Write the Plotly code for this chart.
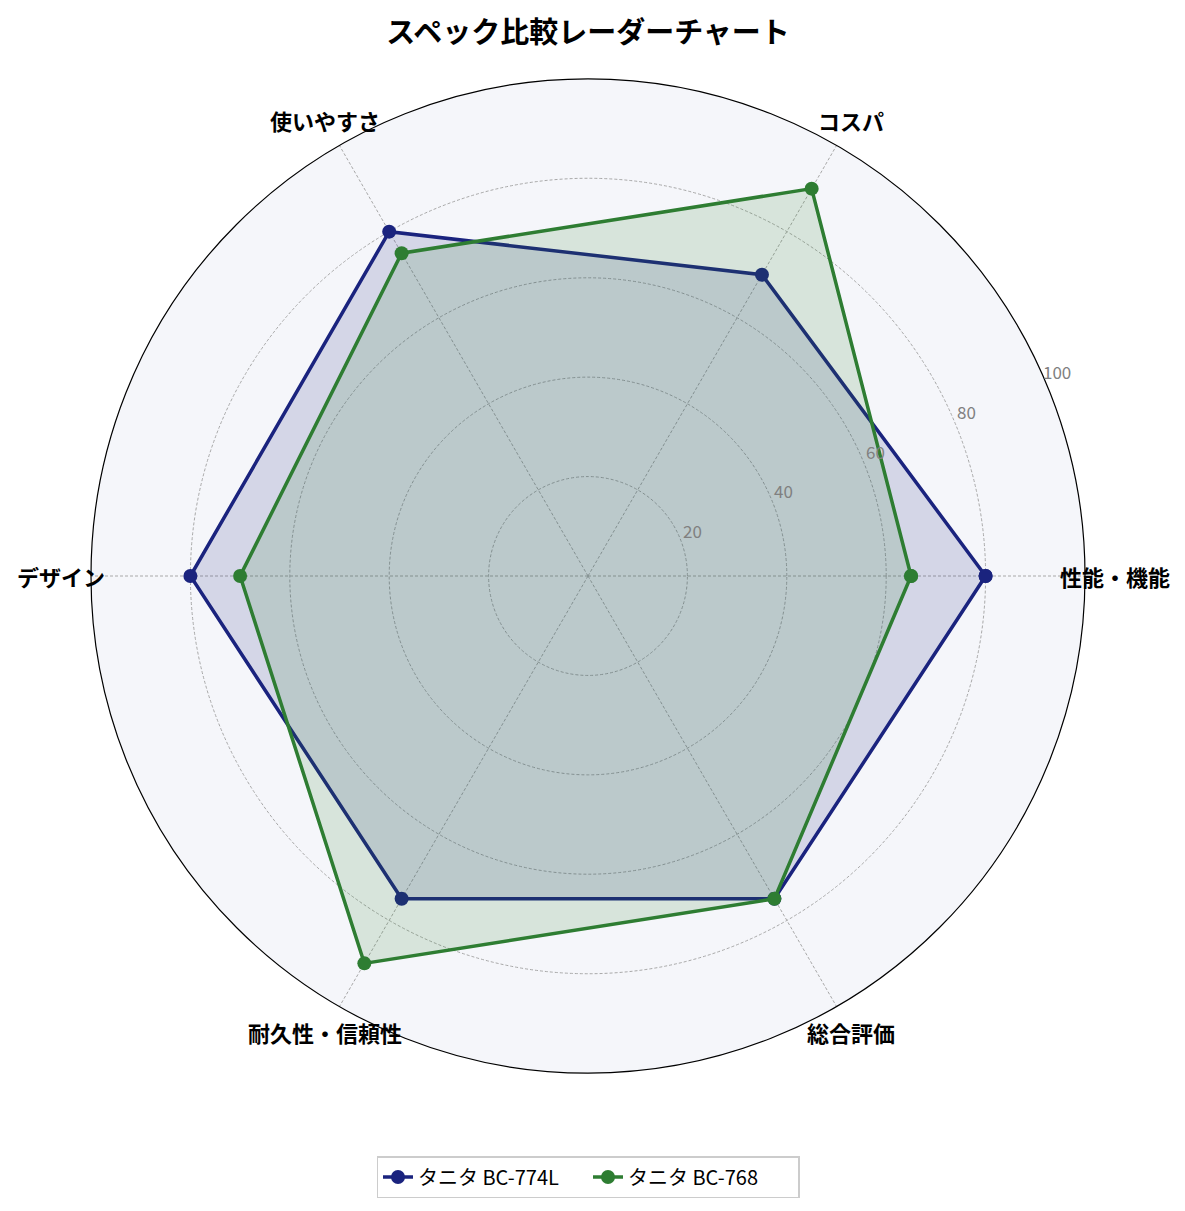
import math
import plotly.graph_objects as go

# カテゴリとスコア
categories = ['性能・機能', 'コスパ', '使いやすさ', 'デザイン', '耐久性・信頼性', '総合評価']
bc774l = [80, 70, 80, 80, 75, 75]
bc768 = [65, 90, 75, 70, 90, 75]
series_names = ['タニタ BC-774L', 'タニタ BC-768']
radial_ticks = [20, 40, 60, 80, 100]


def main():
	fig = go.Figure()

	colors = ['#1a237e', '#2e7d32']
	fills = ['rgba(26,35,126,0.15)', 'rgba(46,125,50,0.15)']

	for name, vals, c, fc in zip(series_names, [bc774l, bc768], colors, fills):
		# 塗りつぶし（凡例なし）
		fig.add_trace(go.Scatterpolar(
			r=vals + vals[:1],
			theta=categories + categories[:1],
			mode='none',
			fill='toself',
			fillcolor=fc,
			showlegend=False,
			hoverinfo='skip',
		))
		# 線とマーカー
		fig.add_trace(go.Scatterpolar(
			r=vals + vals[:1],
			theta=categories + categories[:1],
			mode='lines+markers',
			name=name,
			line=dict(color=c, width=3.5),
			marker=dict(size=14, color=c),
		))

	# 軸ラベルは円周上へ重ねて配置（ポーラー領域 = 紙座標 [0,1]）
	annotations = []
	n = len(categories)
	for i, cat in enumerate(categories):
		a = math.radians(360 / n * i)
		annotations.append(dict(
			text=f'<b>{cat}</b>',
			x=0.5 + 0.5 * 1.06 * math.cos(a),
			y=0.5 + 0.5 * 1.06 * math.sin(a),
			xref='paper', yref='paper',
			xanchor='center', yanchor='middle',
			showarrow=False,
			font=dict(size=22, color='black'),
		))
	# 半径目盛りラベル
	a = math.radians(23.5)
	for v in radial_ticks:
		rr = (v + 3) / 100
		annotations.append(dict(
			text=str(v),
			x=0.5 + 0.5 * rr * math.cos(a),
			y=0.5 + 0.5 * rr * math.sin(a),
			xref='paper', yref='paper',
			xanchor='center', yanchor='middle',
			showarrow=False,
			font=dict(size=17, color='#808080'),
		))

	fig.update_layout(
		width=1185,
		height=1211,
		font=dict(family='Noto Sans CJK JP', color='black'),
		title=dict(
			text='<b>スペック比較レーダーチャート</b>',
			x=0.5, xref='paper', xanchor='center',
			y=1 - 25 / 1211, yanchor='middle',
			font=dict(size=29, color='black'),
		),
		paper_bgcolor='white',
		margin=dict(l=83, r=108, t=71, b=146),
		annotations=annotations,
		polar=dict(
			domain=dict(x=[0, 1], y=[0, 1]),
			bgcolor='#f5f6fa',
			radialaxis=dict(
				range=[0, 100],
				tickvals=radial_ticks,
				showticklabels=False,
				showline=False,
				ticks='',
				gridcolor='#a8a8a8',
				griddash='3px,2px',
				gridwidth=0.8,
			),
			angularaxis=dict(
				rotation=0,
				direction='counterclockwise',
				showticklabels=False,
				gridcolor='#a8a8a8',
				griddash='3px,2px',
				gridwidth=0.8,
				linecolor='black',
				linewidth=1.2,
				ticks='',
			),
		),
		showlegend=True,
		legend=dict(
			orientation='h',
			x=0.5, xanchor='center',
			y=-(1177 - 1073) / 994, yanchor='middle',
			bordercolor='#cccccc',
			borderwidth=1.5,
			bgcolor='white',
			font=dict(size=20, color='black'),
			entrywidth=165,
		),
	)

	fig.write_html('out.html')


if __name__ == '__main__':
	main()
